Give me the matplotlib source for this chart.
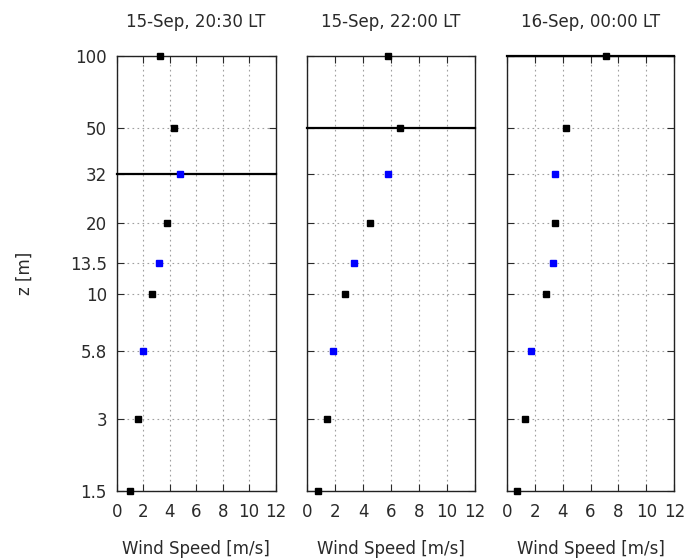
import matplotlib
matplotlib.use("Agg")
import matplotlib.pyplot as plt
import numpy as np

# measurement heights [m]
heights = [1.5, 3, 5.8, 10, 13.5, 20, 32, 50, 100]
# instrument type per height: True -> sonic (blue), False -> cup (black)
is_sonic = [False, False, True, False, True, False, True, False, False]

titles = ["15-Sep, 20:30 LT", "15-Sep, 22:00 LT", "16-Sep, 00:00 LT"]

ws_2030 = [0.98, 1.63, 1.98, 2.69, 3.17, 3.80, 4.78, 4.35, 3.27]
ws_2200 = [0.76, 1.38, 1.84, 2.69, 3.36, 4.50, 5.79, 6.64, 5.79]
ws_0000 = [0.71, 1.31, 1.76, 2.83, 3.29, 3.45, 3.45, 4.21, 7.14]

# boundary layer top [m]
blh = [32, 50, 100]

ytick_vals = [1.5, 3, 5.8, 10, 13.5, 20, 32, 50, 100]
ytick_labels = ["1.5", "3", "5.8", "10", "13.5", "20", "32", "50", "100"]

plt.rcParams["font.family"] = "DejaVu Sans"
plt.rcParams["font.size"] = 12
plt.rcParams["text.color"] = "#2a2a2a"

fig = plt.figure(figsize=(6.88, 5.6), dpi=100)
rects = [
    [0.1696, 0.1232, 0.2311, 0.7773],
    [0.4467, 0.1232, 0.2437, 0.7773],
    [0.7365, 0.1232, 0.2437, 0.7773],
]

sonic = np.array(is_sonic)
for i, (rect, ws) in enumerate(zip(rects, [ws_2030, ws_2200, ws_0000])):
    ax = fig.add_axes(rect)
    ws = np.array(ws)
    z = np.array(heights)
    ax.set_yscale("log")
    ax.set_ylim(1.5, 100)
    ax.set_xlim(0, 12)
    ax.grid(True, which="major", linestyle=(0, (1.5, 3)), color="#a0a0a0", linewidth=0.8)
    ax.axhline(blh[i], color="black", linewidth=1.6, zorder=3, clip_on=False)
    ax.plot(ws[~sonic], z[~sonic], "s", color="black", markersize=4.5,
            linestyle="none", clip_on=False, zorder=4)
    ax.plot(ws[sonic], z[sonic], "s", color="blue", markersize=4.5,
            linestyle="none", clip_on=False, zorder=4)
    ax.set_xticks(range(0, 13, 2))
    ax.set_yticks(ytick_vals)
    ax.yaxis.set_minor_locator(matplotlib.ticker.NullLocator())
    if i == 0:
        ax.set_yticklabels(ytick_labels)
        ax.set_ylabel("z [m]", color="#2a2a2a", labelpad=26)
    else:
        ax.set_yticklabels([])
    ax.tick_params(direction="in", top=True, right=True, length=5,
                   width=0.8, colors="#2a2a2a", labelsize=12, pad=7)
    ax.tick_params(axis="x", pad=8.5)
    ax.set_xlabel("Wind Speed [m/s]", color="#2a2a2a", labelpad=14)
    ax.set_title(titles[i], fontsize=12, pad=21, color="#2a2a2a")
    for s in ax.spines.values():
        s.set_linewidth(1.0)
        s.set_color("#222222")

fig.savefig("out.png", dpi=100)
